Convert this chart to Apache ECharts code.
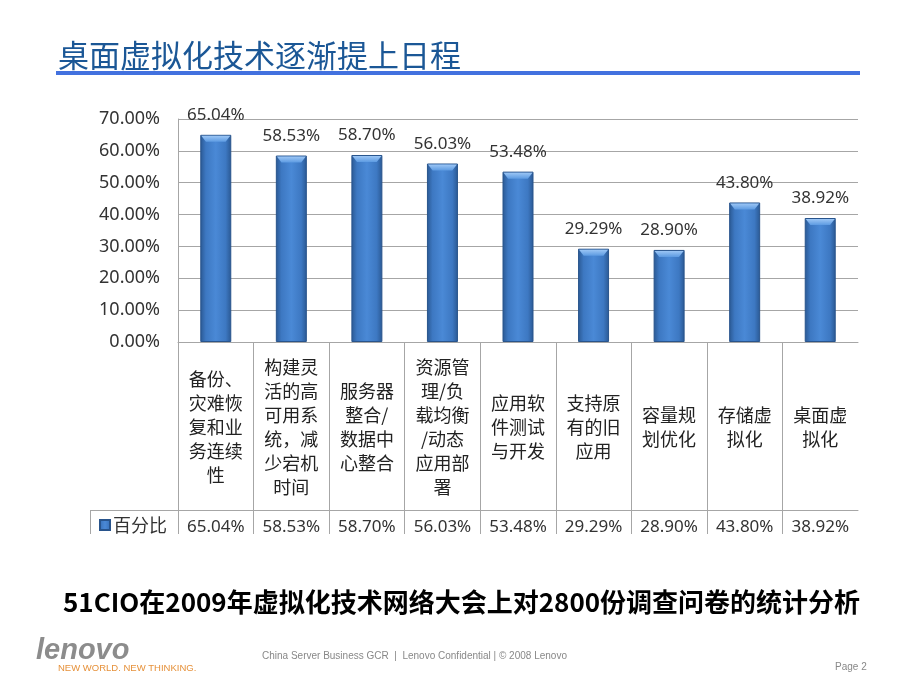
<!DOCTYPE html>
<html>
<head>
<meta charset="utf-8">
<script src="https://cdn.jsdelivr.net/npm/echarts@6/dist/echarts.min.js"></script>
<style>
html,body{margin:0;padding:0;background:#fff;}
#main{width:920px;height:690px;}
</style>
</head>
<body>
<div id="main"></div>
<script>
// ---- data ----
const categories = [
  '备份、\n灾难恢\n复和业\n务连续\n性',
  '构建灵\n活的高\n可用系\n统，减\n少宕机\n时间',
  '服务器\n整合/\n数据中\n心整合',
  '资源管\n理/负\n载均衡\n/动态\n应用部\n署',
  '应用软\n件测试\n与开发',
  '支持原\n有的旧\n应用',
  '容量规\n划优化',
  '存储虚\n拟化',
  '桌面虚\n拟化'
];
const values = [65.04, 58.53, 58.70, 56.03, 53.48, 29.29, 28.90, 43.80, 38.92];
const seriesName = '百分比';
const yMin = 0, yMax = 70, yStep = 10;
const titleText = '桌面虚拟化技术逐渐提上日程';
const subtitleText = '51CIO在2009年虚拟化技术网络大会上对2800份调查问卷的统计分析';
const footerText = 'China Server Business GCR  |  Lenovo Confidential | © 2008 Lenovo';
const pageText = 'Page 2';

const pct = v => Number(v).toFixed(2) + '%';
const gridColor = '#a6a6a6';
const txt = '#333333';
const font = '"Noto Sans", "Noto Sans CJK SC", sans-serif';

const chart = echarts.init(document.getElementById('main'), null, {renderer: 'canvas'});

const barGrad = new echarts.graphic.LinearGradient(0, 0, 1, 0, [
  {offset: 0, color: '#2a5892'},
  {offset: 0.18, color: '#3d78c2'},
  {offset: 0.5, color: '#4a89d6'},
  {offset: 0.82, color: '#3d78c2'},
  {offset: 1, color: '#2a5892'}
]);
const capGrad = new echarts.graphic.LinearGradient(0, 0, 0, 1, [
  {offset: 0, color: '#9cc6f5'},
  {offset: 1, color: '#5d9be2'}
]);

chart.setOption({
  animation: false,
  backgroundColor: '#ffffff',
  title: {
    text: titleText,
    left: 53, top: 35,
    textStyle: {fontFamily: '"Noto Sans CJK SC", sans-serif', fontSize: 31, fontWeight: 'normal', color: '#1b5796'}
  },
  legend: {
    data: [seriesName],
    left: 94, top: 511,
    icon: 'rect', itemWidth: 10, itemHeight: 10, itemGap: 4,
    textStyle: {fontFamily: '"Noto Sans CJK SC", sans-serif', fontSize: 18, color: txt, padding: [0,0,0,-2]}
  },
  grid: [
    {left: 178, right: 62, top: 119, bottom: 348},
    {left: 178, right: 62, top: 342, height: 193}
  ],
  xAxis: [
    {
      type: 'category', gridIndex: 0, data: categories,
      axisLine: {show: true, lineStyle: {color: gridColor, width: 1}},
      axisTick: {show: false},
      axisLabel: {
        interval: 0, margin: 85, verticalAlign: 'middle',
        fontFamily: '"Noto Sans CJK SC", sans-serif', fontSize: 18, lineHeight: 24, color: '#222'
      }
    },
    {
      type: 'category', gridIndex: 0, data: values.map(pct),
      position: 'bottom', offset: 168,
      axisLine: {show: true, lineStyle: {color: gridColor, width: 1}},
      axisTick: {show: false},
      axisLabel: {interval: 0, margin: 9, fontFamily: font, fontSize: 17, color: txt}
    },
    {
      type: 'category', gridIndex: 1, data: categories,
      axisLine: {show: false}, axisTick: {show: false}, axisLabel: {show: false},
      splitLine: {show: true, showMinLine: true, showMaxLine: false, lineStyle: {color: gridColor, width: 1}}
    }
  ],
  yAxis: [
    {
      type: 'value', gridIndex: 0, min: yMin, max: yMax, interval: yStep,
      axisLine: {show: true, lineStyle: {color: gridColor, width: 1}},
      axisTick: {show: false},
      axisLabel: {formatter: v => pct(v), margin: 18, fontFamily: font, fontSize: 18, color: txt},
      splitLine: {show: true, lineStyle: {color: gridColor, width: 1}}
    },
    {type: 'value', gridIndex: 1, show: false, splitLine: {show: false}}
  ],
  series: [
    {
      name: seriesName, type: 'bar', xAxisIndex: 0, yAxisIndex: 0,
      data: values, barWidth: 31,
      itemStyle: {color: barGrad, borderColor: '#28548c', borderWidth: 1},
      label: {show: true, position: 'top', distance: 11, formatter: p => pct(p.value),
        fontFamily: font, fontSize: 17, color: txt},
      z: 2
    },
    {
      name: 'cap', type: 'pictorialBar', xAxisIndex: 0, yAxisIndex: 0,
      data: values, symbol: 'path://M0,0 L31,0 L26,6 L5,6 Z', symbolSize: [29, 6],
      symbolPosition: 'end', symbolOffset: [0, 1],
      itemStyle: {color: capGrad}, silent: true, z: 3
    }
  ],
  graphic: [
    {type: 'rect', shape: {x: 56, y: 71, width: 804, height: 4}, style: {fill: '#4271df'}},
    {type: 'line', shape: {x1: 90, y1: 510.5, x2: 178, y2: 510.5}, style: {stroke: gridColor, lineWidth: 1}},
    {type: 'line', shape: {x1: 90.5, y1: 510, x2: 90.5, y2: 535}, style: {stroke: gridColor, lineWidth: 1}},
    {type: 'rect', shape: {x: 80, y: 534, width: 800, height: 20}, style: {fill: '#ffffff'}, z: 100},
    {type: 'text', left: 63, top: 589,
      style: {text: subtitleText, fontFamily: '"Noto Sans CJK SC", sans-serif', fontSize: 26, fontWeight: 'bold', fill: '#000'}},
    {type: 'text', left: 36, top: 636,
      style: {text: 'lenovo', fontFamily: '"Liberation Sans", Arial, sans-serif', fontSize: 29, fontWeight: 'bold', fontStyle: 'italic', fill: '#8c8c8c'}},
    {type: 'text', left: 58, top: 663,
      style: {text: 'NEW WORLD. NEW THINKING.', fontFamily: '"Liberation Sans", Arial, sans-serif', fontSize: 9.5, fill: '#e6913a'}},
    {type: 'text', left: 262, top: 651,
      style: {text: footerText, fontFamily: '"Liberation Sans", Arial, sans-serif', fontSize: 10, fill: '#888'}},
    {type: 'text', left: 835, top: 662,
      style: {text: pageText, fontFamily: '"Liberation Sans", Arial, sans-serif', fontSize: 10, fill: '#888'}}
  ]
});
</script>
</body>
</html>
